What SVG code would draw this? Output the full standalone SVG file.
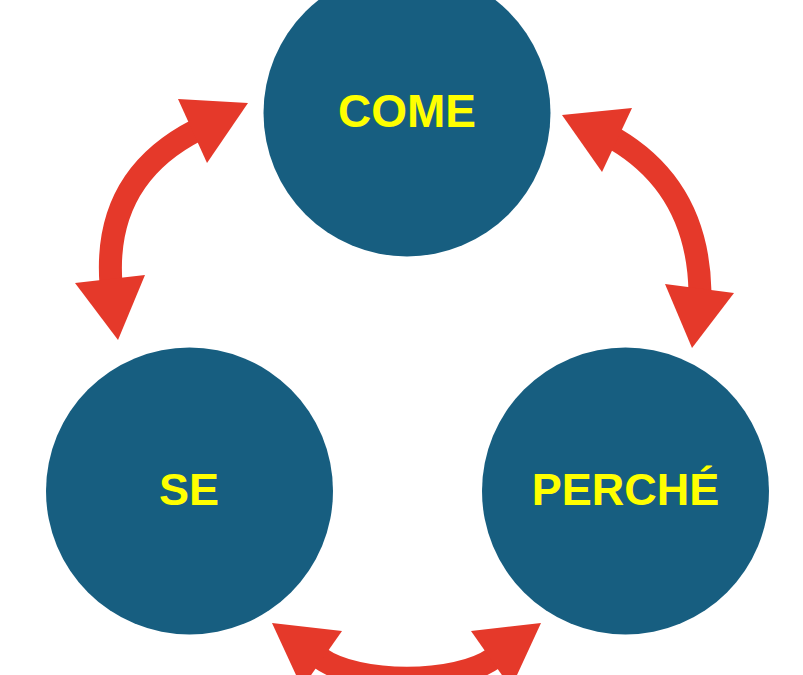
<svg xmlns="http://www.w3.org/2000/svg" width="803" height="675" viewBox="0 0 803 675">
<style>
.node{fill:#175E80}
.lbl{font-family:"Liberation Sans",Arial,sans-serif;font-weight:bold;font-size:46px;fill:#FFFF00;text-anchor:middle}
.shaft{fill:none;stroke:#E5392A;stroke-width:23}
.head{fill:#E5392A}
</style>
<rect width="803" height="675" fill="#FFFFFF"/>
<g id="come"><circle class="node" cx="407" cy="113" r="143.5"/><text class="lbl" x="407" y="127">COME</text></g>
<g id="se"><circle class="node" cx="189.5" cy="491" r="143.5"/><text class="lbl" x="189" y="505" style="font-size:45px">SE</text></g>
<g id="perche"><circle class="node" cx="625.5" cy="491" r="143.5"/><text class="lbl" x="625.5" y="505" style="font-size:45px">PERCHÉ</text></g>
<g id="connectors">
<path class="shaft" d="M111,284 Q103,178 197,130"/>
<polygon class="head" points="248,103 178,99 207,163"/>
<polygon class="head" points="118,340 75,283 145,275"/>
<path class="shaft" d="M615,139 Q698,188 700,292"/>
<polygon class="head" points="562,115 632,108 602,172"/>
<polygon class="head" points="692,348 665,284 734,293"/>
<path class="shaft" d="M320,658 C358,685 456,685 494,658"/>
<polygon class="head" points="272,623 342,631 302,688"/>
<polygon class="head" points="541,623 471,631 511,688"/>
</g>
</svg>
